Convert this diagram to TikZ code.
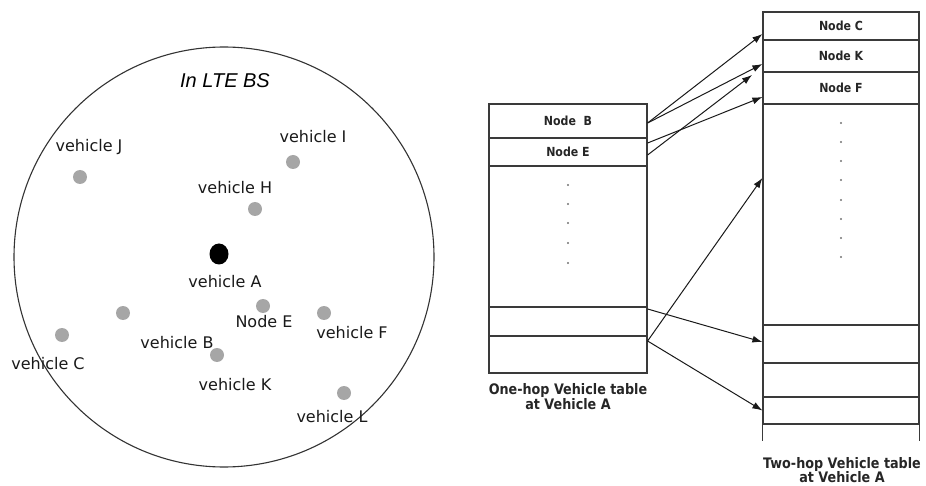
\documentclass[tikz,border=0pt]{standalone}
\usepackage{fontspec}
\setmainfont{DejaVu Sans}
\newfontfamily\labfont{DejaVu Sans}
\newfontfamily\tabfont{DejaVu Sans Bold}[FakeStretch=0.88]
\newfontfamily\ltefont{Liberation Sans Italic}
\usetikzlibrary{arrows.meta,shapes.geometric}
\definecolor{dotgray}{HTML}{A6A6A6}
\definecolor{linegray}{HTML}{3A3A3A}
\begin{document}
\begin{tikzpicture}[x=1pt,y=-1pt,
  vlabel/.style={font=\labfont\fontsize{16}{18}\selectfont, inner sep=0pt, text=black!90},
  vdot/.style={circle, fill=dotgray, minimum size=14pt, inner sep=0pt},
  cell/.style={draw=linegray, line width=1.2pt, inner sep=0pt, text=black!85, font=\tabfont\fontsize{12.5}{14}\selectfont},
  lcell/.style={cell, minimum width=158pt},
  rcell/.style={cell, minimum width=156pt},
  caption/.style={font=\tabfont\fontsize{14.5}{14.5}\selectfont, align=center, inner sep=0pt, text=black!85},
  conn/.style={draw=black!90, line width=1pt, -{Latex[length=10pt,width=7pt]}},
  tdot/.style={circle, fill=black!55, minimum size=2.2pt, inner sep=0pt}
]
\useasboundingbox (0,0) rectangle (926,486);

% ---- LTE cell ----
\draw[line width=1.1pt, black!80] (224,257) circle (210);
\node[font=\ltefont\fontsize{20}{22}\selectfont, inner sep=0pt] (lte) at (225,81) {In LTE BS};

\node[vdot] (dJ) at (80,177) {};
\node[vlabel] (tJ) at (89,147) {vehicle J};
\node[vdot] (dI) at (293,162) {};
\node[vlabel] (tI) at (313,137) {vehicle I};
\node[vdot] (dH) at (255,209) {};
\node[vlabel] (tH) at (235,188) {vehicle H};
\node[ellipse, fill=black, minimum width=19pt, minimum height=21pt, inner sep=0pt] (dA) at (219,254) {};
\node[vlabel] (tA) at (225,282) {vehicle A};
\node[vdot] (dE) at (263,306) {};
\node[vlabel] (tE) at (264,322) {Node E};
\node[vdot] (dB) at (123,313) {};
\node[vdot] (dF) at (324,313) {};
\node[vlabel] (tF) at (352,333) {vehicle F};
\node[vdot] (dC) at (62,335) {};
\node[vlabel] (tC) at (48,364) {vehicle C};
\node[vlabel] (tB) at (177,343) {vehicle B};
\node[vdot] (dK) at (217,355) {};
\node[vlabel] (tK) at (235,385) {vehicle K};
\node[vdot] (dL) at (344,393) {};
\node[vlabel] (tL) at (332,417) {vehicle L};

% ---- one-hop table ----
\node[lcell, minimum height=34pt] (lb) at (568,121) {Node\ \ B};
\node[lcell, minimum height=28pt] (le) at (568,152) {Node E};
\node[lcell, minimum height=141pt] (lbig) at (568,236.5) {};
\node[lcell, minimum height=29pt] (lr1) at (568,321.5) {};
\node[lcell, minimum height=37pt] (lr2) at (568,354.5) {};
\foreach \y in {185,204,223,243,263} \node[tdot] at (568,\y) {};
\node[caption] (lcap) at (568,396.5) {One-hop Vehicle table\\at Vehicle A};

% ---- two-hop table ----
\node[rcell, minimum height=28pt] (rc) at (841,26) {Node C};
\node[rcell, minimum height=32pt] (rk) at (841,56) {Node K};
\node[rcell, minimum height=32pt] (rf) at (841,88) {Node F};
\node[rcell, minimum height=221pt] (rbig) at (841,214.5) {};
\node[rcell, minimum height=38pt] (r1) at (841,344) {};
\node[rcell, minimum height=34pt] (r2) at (841,380) {};
\node[rcell, minimum height=27pt] (r3) at (841,410.5) {};
\draw[draw=linegray, line width=1.2pt] (r3.south west) -- ++(0,16);
\draw[draw=linegray, line width=1.2pt] (r3.south east) -- ++(0,16);
\foreach \y in {123,142,161,180,200,219,238,257} \node[tdot] at (841,\y) {};
\node[caption] (rcap) at (842,470) {Two-hop Vehicle table\\at Vehicle A};

% ---- connectors ----
\coordinate (kshort) at (752,75);
\draw[conn] ([yshift=-2pt]lb.east) -- ([yshift=-8pt]rc.west);
\draw[conn] ([yshift=-2pt]lb.east) -- ([yshift=-8pt]rk.west);
\draw[conn] ([yshift=9pt]le.east) -- ([yshift=-9pt]rf.west);
\draw[conn] ([yshift=-3pt]le.east) -- (kshort);
\draw[conn] ([yshift=12.5pt]lr1.east) -- ([yshift=2pt]r1.west);
\draw[conn] ([yshift=13.5pt]lr2.east) -- ([yshift=36.5pt]rbig.west);
\draw[conn] ([yshift=13.5pt]lr2.east) -- (r3.west);
\end{tikzpicture}
\end{document}
